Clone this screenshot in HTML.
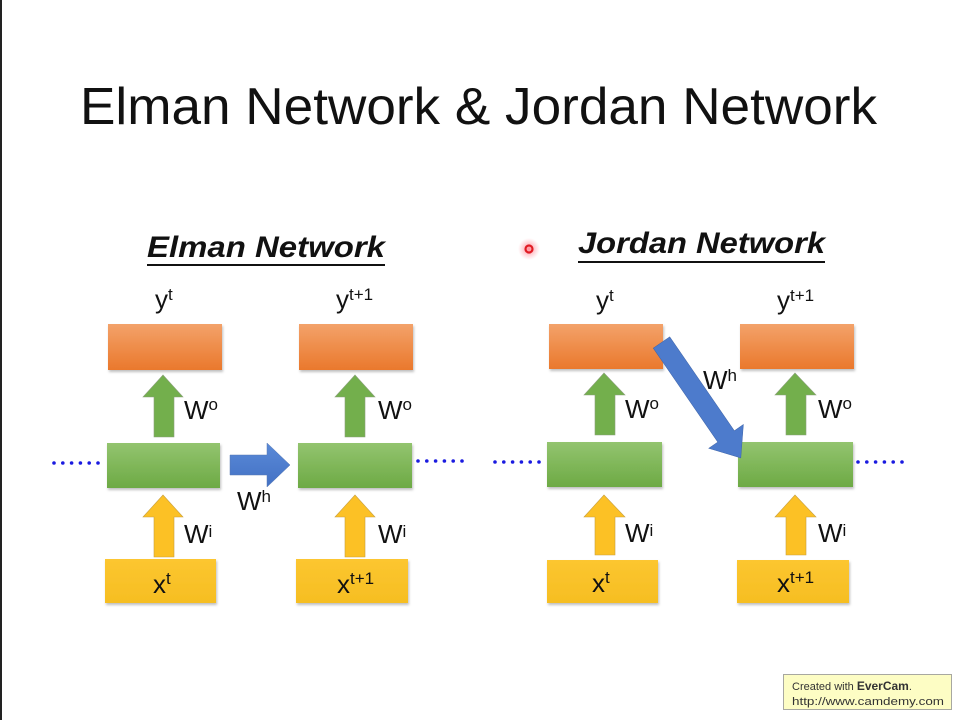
<!DOCTYPE html>
<html><head><meta charset="utf-8"><style>
html,body{margin:0;padding:0;background:#fff;}
svg{display:block;}
text{font-family:"Liberation Sans",sans-serif;fill:#111;}
</style></head><body>
<svg width="960" height="720" viewBox="0 0 960 720" xmlns="http://www.w3.org/2000/svg">
<defs>
<linearGradient id="og" x1="0" y1="0" x2="0" y2="1"><stop offset="0" stop-color="#F3A26A"/><stop offset="1" stop-color="#EA782C"/></linearGradient>
<linearGradient id="gg" x1="0" y1="0" x2="0" y2="1"><stop offset="0" stop-color="#93C46F"/><stop offset="1" stop-color="#6DAA44"/></linearGradient>
<linearGradient id="yg" x1="0" y1="0" x2="0" y2="1"><stop offset="0" stop-color="#FCC630"/><stop offset="1" stop-color="#F6BE22"/></linearGradient>
<linearGradient id="bg" x1="0" y1="0" x2="0" y2="1"><stop offset="0" stop-color="#5A8AD8"/><stop offset="1" stop-color="#4371C4"/></linearGradient>
<radialGradient id="glow"><stop offset="0" stop-color="#ff6070" stop-opacity="0.7"/><stop offset="1" stop-color="#ff8090" stop-opacity="0"/></radialGradient>
<filter id="sh" x="-10%" y="-20%" width="130%" height="160%"><feDropShadow dx="1" dy="2" stdDeviation="1.2" flood-color="#000" flood-opacity="0.25"/></filter>
</defs>
<rect x="0" y="0" width="2" height="720" fill="#222"/>

<!-- Title -->
<text x="80" y="124" font-size="52" textLength="797" lengthAdjust="spacingAndGlyphs">Elman Network &amp; Jordan Network</text>

<!-- Subtitles -->
<text x="147" y="257" font-size="30" font-weight="bold" font-style="italic" textLength="238" lengthAdjust="spacingAndGlyphs">Elman Network</text>
<rect x="147" y="264" width="238" height="2" fill="#111"/>
<text x="578" y="253" font-size="30" font-weight="bold" font-style="italic" textLength="247" lengthAdjust="spacingAndGlyphs">Jordan Network</text>
<rect x="578" y="261" width="247" height="2" fill="#111"/>

<!-- cursor -->
<circle cx="529" cy="249" r="11" fill="url(#glow)"/>
<circle cx="529" cy="249" r="3.5" fill="none" stroke="#e01c24" stroke-width="2.2"/>

<!-- ELMAN boxes -->
<g filter="url(#sh)">
<rect x="108" y="324" width="114" height="46" fill="url(#og)"/>
<rect x="299" y="324" width="114" height="46" fill="url(#og)"/>
<rect x="107" y="443" width="113" height="45" fill="url(#gg)"/>
<rect x="298" y="443" width="114" height="45" fill="url(#gg)"/>
<rect x="105" y="559" width="111" height="44" fill="url(#yg)"/>
<rect x="296" y="559" width="112" height="44" fill="url(#yg)"/>
<!-- JORDAN boxes -->
<rect x="549" y="324" width="114" height="45" fill="url(#og)"/>
<rect x="740" y="324" width="114" height="45" fill="url(#og)"/>
<rect x="547" y="442" width="115" height="45" fill="url(#gg)"/>
<rect x="738" y="442" width="115" height="45" fill="url(#gg)"/>
<rect x="547" y="560" width="111" height="43" fill="url(#yg)"/>
<rect x="737" y="560" width="112" height="43" fill="url(#yg)"/>
</g>

<!-- Elman arrows -->
<g stroke="#8aa07a" stroke-width="0.6">
<polygon points="163,375 183,397 174,397 174,437 154,437 154,397 143,397" fill="#73AF4C"/>
<polygon points="355,375 375,397 365,397 365,437 345,437 345,397 335,397" fill="#73AF4C"/>
<polygon points="604,373 625,395 615,395 615,435 595,435 595,395 584,395" fill="#73AF4C"/>
<polygon points="795,373 816,395 806,395 806,435 786,435 786,395 775,395" fill="#73AF4C"/>
</g>
<g stroke="#c8a040" stroke-width="0.6">
<polygon points="163,495 183,517 174,517 174,557 154,557 154,517 143,517" fill="#FCC125"/>
<polygon points="355,495 375,517 365,517 365,557 345,557 345,517 335,517" fill="#FCC125"/>
<polygon points="604,495 625,517 615,517 615,555 595,555 595,517 584,517" fill="#FCC125"/>
<polygon points="795,495 816,517 806,517 806,555 786,555 786,517 775,517" fill="#FCC125"/>
</g>
<!-- Elman Wh arrow -->
<polygon points="230,455 267,455 267,443 290,465 267,487 267,475 230,475" fill="url(#bg)" stroke="#5878b0" stroke-width="0.5"/>
<!-- Jordan diagonal arrow -->
<g transform="translate(661.5,342.5) rotate(55.5)">
<polygon points="0,-10 114,-10 114,-21 140,0 114,21 114,10 0,10" fill="#4D7BCC" stroke="#3e64a8" stroke-width="0.5"/>
</g>

<!-- dots -->
<g fill="#1a1ae0">
<circle cx="54" cy="463" r="1.8"/><circle cx="62.8" cy="463" r="1.8"/><circle cx="71.6" cy="463" r="1.8"/><circle cx="80.4" cy="463" r="1.8"/><circle cx="89.2" cy="463" r="1.8"/><circle cx="98" cy="463" r="1.8"/>
<circle cx="418" cy="461" r="1.8"/><circle cx="426.8" cy="461" r="1.8"/><circle cx="435.6" cy="461" r="1.8"/><circle cx="444.4" cy="461" r="1.8"/><circle cx="453.2" cy="461" r="1.8"/><circle cx="462" cy="461" r="1.8"/>
<circle cx="495" cy="462" r="1.8"/><circle cx="503.8" cy="462" r="1.8"/><circle cx="512.6" cy="462" r="1.8"/><circle cx="521.4" cy="462" r="1.8"/><circle cx="530.2" cy="462" r="1.8"/><circle cx="539" cy="462" r="1.8"/>
<circle cx="858" cy="462" r="1.8"/><circle cx="866.8" cy="462" r="1.8"/><circle cx="875.6" cy="462" r="1.8"/><circle cx="884.4" cy="462" r="1.8"/><circle cx="893.2" cy="462" r="1.8"/><circle cx="902" cy="462" r="1.8"/>
</g>

<!-- Labels Elman -->
<g font-size="26">
<text x="155" y="308">y<tspan font-size="17" dy="-8">t</tspan></text>
<text x="336" y="308">y<tspan font-size="17" dy="-8">t+1</tspan></text>
<text x="184" y="419">W<tspan font-size="17" dy="-9">o</tspan></text>
<text x="378" y="419">W<tspan font-size="17" dy="-9">o</tspan></text>
<text x="237" y="510">W<tspan font-size="17" dy="-8">h</tspan></text>
<text x="184" y="543">W<tspan font-size="17" dy="-6">i</tspan></text>
<text x="378" y="543">W<tspan font-size="17" dy="-6">i</tspan></text>
<text x="153" y="593">x<tspan font-size="17" dy="-9">t</tspan></text>
<text x="337" y="593">x<tspan font-size="17" dy="-9">t+1</tspan></text>
<!-- Labels Jordan -->
<text x="596" y="309">y<tspan font-size="17" dy="-8">t</tspan></text>
<text x="777" y="309">y<tspan font-size="17" dy="-8">t+1</tspan></text>
<text x="625" y="418">W<tspan font-size="17" dy="-9">o</tspan></text>
<text x="818" y="418">W<tspan font-size="17" dy="-9">o</tspan></text>
<text x="703" y="389">W<tspan font-size="17" dy="-8">h</tspan></text>
<text x="625" y="542">W<tspan font-size="17" dy="-6">i</tspan></text>
<text x="818" y="542">W<tspan font-size="17" dy="-6">i</tspan></text>
<text x="592" y="592">x<tspan font-size="17" dy="-9">t</tspan></text>
<text x="777" y="592">x<tspan font-size="17" dy="-9">t+1</tspan></text>
</g>

<!-- EverCam badge -->
<rect x="783.5" y="674.5" width="168" height="35" fill="#FDFDC4" stroke="#a8a8a0" stroke-width="1"/>
<text x="792" y="690" font-size="11" fill="#333" style="fill:#333">Created with <tspan font-weight="bold" font-size="12">EverCam</tspan>.</text>
<text x="792" y="705" font-size="11" style="fill:#333" textLength="152" lengthAdjust="spacingAndGlyphs">http://www.camdemy.com</text>
</svg>
</body></html>
